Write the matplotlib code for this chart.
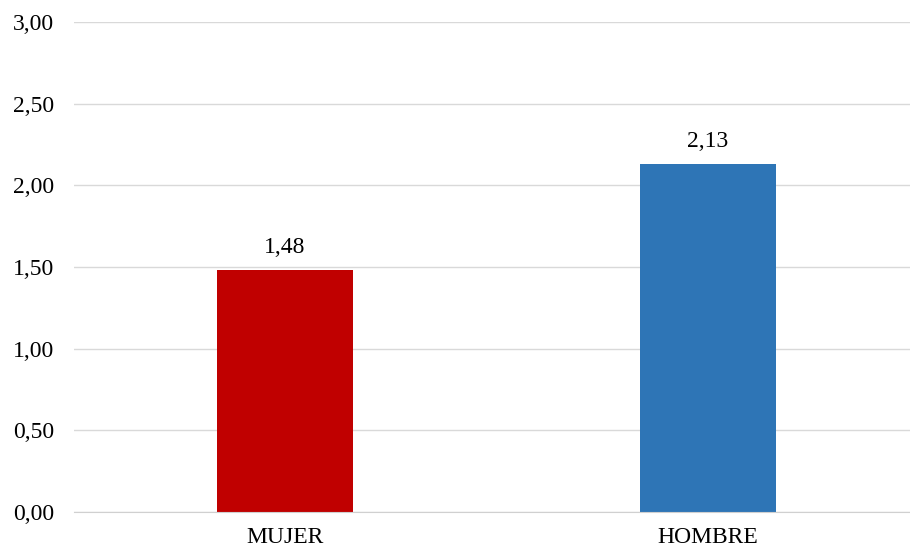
import matplotlib
matplotlib.use("Agg")
import matplotlib.pyplot as plt
from matplotlib.ticker import FuncFormatter, MultipleLocator

categories = ["MUJER", "HOMBRE"]
values = [1.48, 2.13]
colors = ["#C00000", "#2E75B6"]

plt.rcParams["font.family"] = ["Liberation Serif", "DejaVu Serif"]

fig = plt.figure(figsize=(9.10, 5.48), dpi=100)
W, H = 910, 548
ax = fig.add_axes([73.5 / W, (548 - 512) / H, 846 / W, (512 - 22) / H])

x = list(range(len(categories)))
bars = ax.bar(x, values, width=0.32, color=colors, zorder=3)

ax.set_xlim(-0.5, len(categories) - 0.5)
ax.set_ylim(0, 3.0)
ax.yaxis.set_major_locator(MultipleLocator(0.5))
ax.yaxis.set_major_formatter(FuncFormatter(lambda v, p: f"{v:.2f}".replace(".", ",")))
ax.set_xticks(x)
ax.set_xticklabels(categories)

ax.grid(axis="y", color="#D9D9D9", linewidth=1.0, zorder=0)
for s in ["top", "right", "left"]:
    ax.spines[s].set_visible(False)
ax.spines["bottom"].set_color("#D0D0D0")
ax.spines["bottom"].set_zorder(4)
ax.tick_params(axis="both", length=0, labelsize=17, colors="#000000")
ax.tick_params(axis="y", pad=14)
ax.tick_params(axis="x", pad=10.5)

for b, v in zip(bars, values):
    ax.annotate(f"{v:.2f}".replace(".", ","), (b.get_x() + b.get_width() / 2, v),
                xytext=(0, 8.5), textcoords="offset points", ha="center", va="bottom",
                fontsize=17)

fig.savefig("out.png", dpi=100)
